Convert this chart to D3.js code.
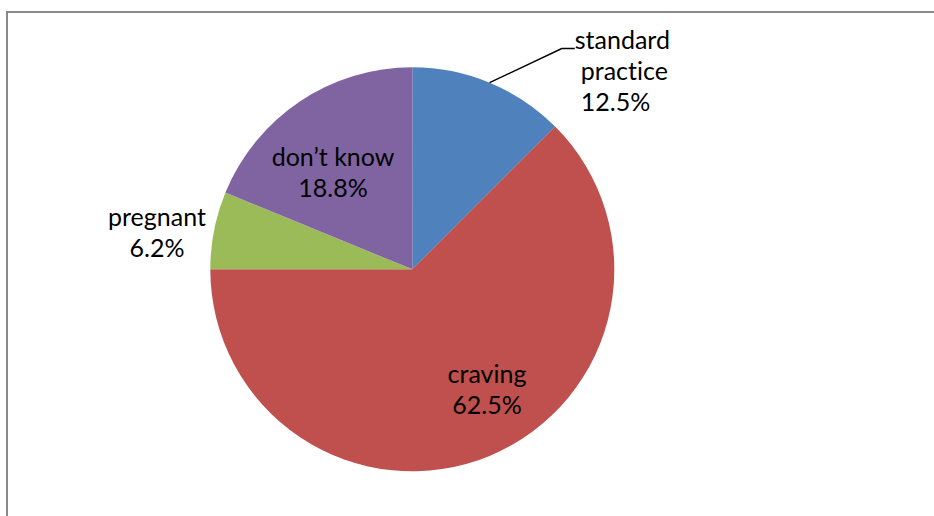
<!DOCTYPE html>
<html>
<head>
<meta charset="utf-8">
<script src="https://cdn.jsdelivr.net/npm/d3@7/dist/d3.min.js"></script>
<style>
  html, body { margin: 0; padding: 0; background: #ffffff; }
  svg { display: block; }
  text { font-variant-ligatures: none; font-feature-settings: "liga" 0; }
</style>
</head>
<body>
<svg id="chart" width="934" height="516"></svg>
<script>
// Survey answers, in clockwise order from 12 o'clock
const categories = ["standard practice", "craving", "pregnant", "don\u2019t know"];
const values = [12.5, 62.5, 6.2, 18.8];
const valueLabels = ["12.5%", "62.5%", "6.2%", "18.8%"];
const colors = ["#4F81BD", "#C0504D", "#9BBB59", "#8064A2"];

const width = 934, height = 516;
const cx = 412.3, cy = 269.3, radius = 202;
const fontSize = 25, lineGap = 31;

const svg = d3.select("#chart");

// chart frame (continues past the right and bottom edges)
svg.append("rect")
  .attr("x", 7).attr("y", 12)
  .attr("width", 1200).attr("height", 1200)
  .attr("fill", "none")
  .attr("stroke", "#8a8a8a")
  .attr("stroke-width", 2);

const pie = d3.pie().sort(null).value(d => d.value);
const data = categories.map((c, i) => ({ name: c, value: values[i], label: valueLabels[i], color: colors[i] }));
const arcs = pie(data);

const arc = d3.arc().innerRadius(0).outerRadius(radius);

const g = svg.append("g").attr("transform", `translate(${cx},${cy})`);

g.selectAll("path.slice")
  .data(arcs)
  .enter().append("path")
  .attr("class", "slice")
  .attr("d", arc)
  .attr("fill", d => d.data.color);

// polar helper: angle in radians clockwise from 12 o'clock
const polar = (a, r) => [r * Math.sin(a), -r * Math.cos(a)];
const deg = Math.PI / 180;

// label placement per slice: angle shift from slice middle and distance as fraction of radius
const placement = {
  "craving": { shift: -9.25, k: 0.703 },
  "pregnant": { shift: -3, k: 1.277 },
  "don\u2019t know": { shift: -5.5, k: 0.619 }
};

const font = "Lato, 'Open Sans', sans-serif";

arcs.forEach(d => {
  const mid = (d.startAngle + d.endAngle) / 2;
  const p = placement[d.data.name];
  if (p) {
    const [x, y] = polar(mid + p.shift * deg, p.k * radius);
    const t = g.append("text")
      .attr("font-family", font)
      .attr("font-size", fontSize)
      .attr("fill", "#000")
      .attr("text-anchor", "middle");
    const first = y - lineGap / 2 + 8.5;
    t.append("tspan").attr("x", x).attr("y", first).text(d.data.name);
    t.append("tspan").attr("x", x).attr("y", first + lineGap).text(d.data.label);
  } else {
    // outside label with leader line
    const start = polar(mid, radius);
    const elbow = polar(34.1 * deg, 1.32 * radius);
    const end = [elbow[0] + 13, elbow[1]];
    g.append("path")
      .attr("d", d3.line()([start, elbow, end]))
      .attr("fill", "none")
      .attr("stroke", "#000")
      .attr("stroke-width", 1.5);
    const words = d.data.name.split(" ");
    const lines = [...words, d.data.label];
    const t = g.append("text")
      .attr("font-family", font)
      .attr("font-size", fontSize)
      .attr("fill", "#000")
      .attr("text-anchor", "start");
    lines.forEach((s, i) => {
      t.append("tspan")
        .attr("x", end[0] + (i === 0 ? 0 : 6))
        .attr("y", end[1] + 0.5 + i * lineGap)
        .text(s);
    });
  }
});
</script>
</body>
</html>
